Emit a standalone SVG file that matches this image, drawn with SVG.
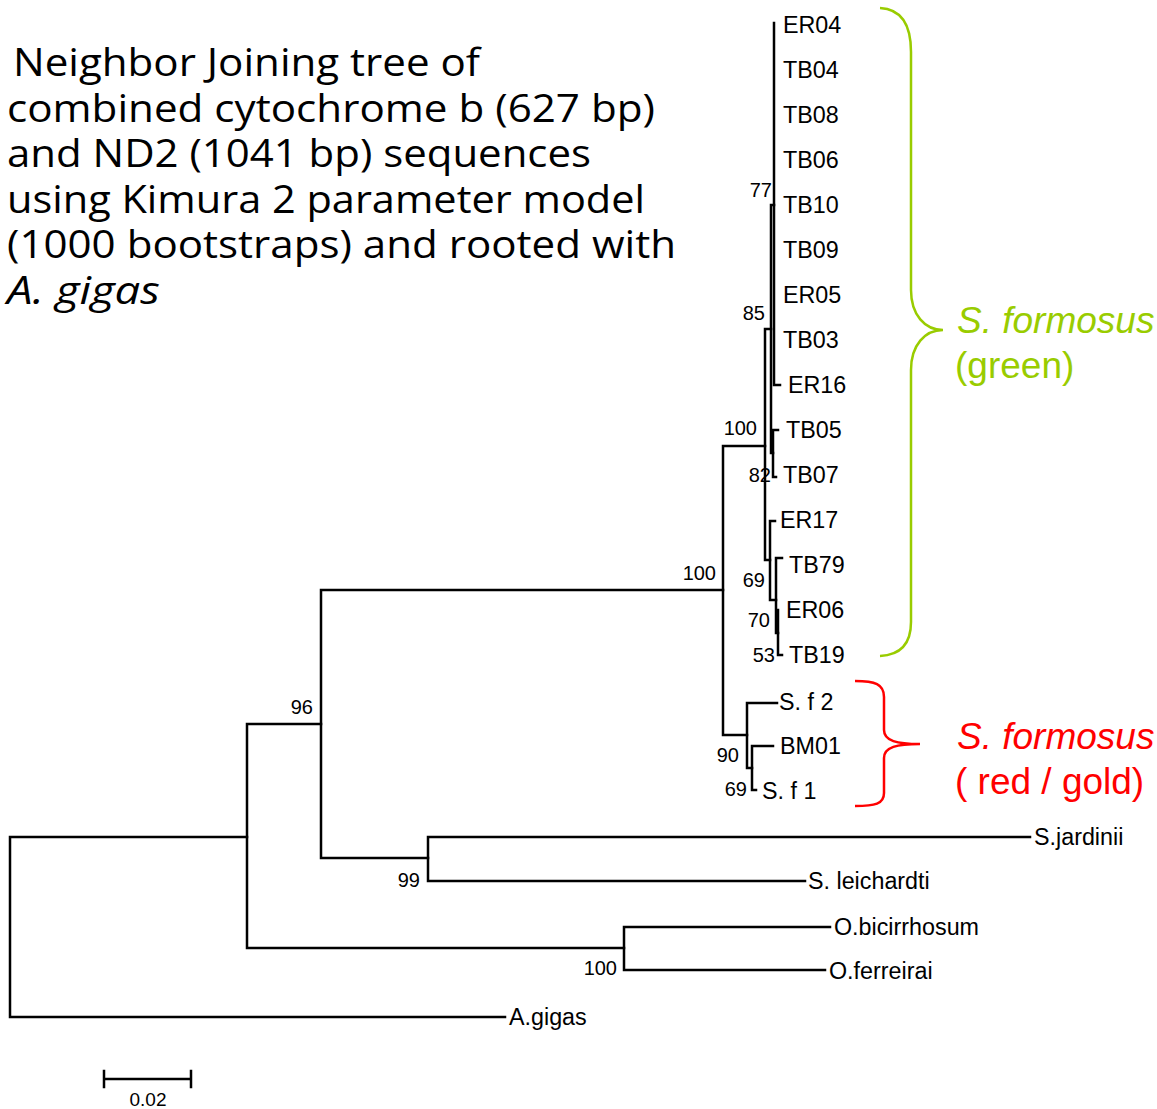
<svg xmlns="http://www.w3.org/2000/svg" width="1157" height="1109" viewBox="0 0 1157 1109">
<style>
.br{fill:none;stroke:#000;stroke-width:2.5;stroke-linecap:square}
.lf{font-family:"Liberation Sans",Arial,sans-serif;font-size:23.3px;fill:#000}
.bs{font-family:"Liberation Sans",Arial,sans-serif;font-size:20px;fill:#000;text-anchor:end}
.ti{font-family:"Open Sans","Noto Sans",sans-serif;font-size:38px;fill:#000}
.gr{font-family:"Liberation Sans",Arial,sans-serif;font-size:37px;fill:#99cc00}
.rd{font-family:"Liberation Sans",Arial,sans-serif;font-size:37px;fill:#ff0000}
</style>
<rect width="1157" height="1109" fill="#fff"/>
<g id="title">
<text class="ti" x="13" y="76" textLength="467" lengthAdjust="spacingAndGlyphs">Neighbor Joining tree of</text>
<text class="ti" x="7" y="121.5" textLength="648" lengthAdjust="spacingAndGlyphs">combined cytochrome b (627 bp)</text>
<text class="ti" x="7" y="167" textLength="584" lengthAdjust="spacingAndGlyphs">and ND2 (1041 bp) sequences</text>
<text class="ti" x="7" y="212.5" textLength="638" lengthAdjust="spacingAndGlyphs">using Kimura 2 parameter model</text>
<text class="ti" x="7" y="258" textLength="669" lengthAdjust="spacingAndGlyphs">(1000 bootstraps) and rooted with</text>
<text class="ti" x="7" y="303.5" font-style="italic" textLength="153" lengthAdjust="spacingAndGlyphs">A. gigas</text>
</g>
<g id="connectors">
<path class="br" d="M10,837 V1017 M10,837 H247 M10,1017 H505"/>
<path class="br" d="M247,724 V948 M247,724 H321 M247,948 H624"/>
<path class="br" d="M624,927 V970 M624,927 H830 M624,970 H825"/>
<path class="br" d="M321,590 V858 M321,590 H723 M321,858 H428"/>
<path class="br" d="M428,837 V881 M428,837 H1030 M428,881 H805"/>
<path class="br" d="M723,446 V735 M723,446 H765 M723,735 H747"/>
<path class="br" d="M747,703 V768 M747,703 H777 M747,768 H752"/>
<path class="br" d="M752,746 V790 M752,746 H773 M752,790 H756"/>
<path class="br" d="M765,329 V560 M765,329 H771 M765,560 H770"/>
<path class="br" d="M771,205 V453 M771,205 H774 M771,453 H773"/>
<path class="br" d="M774,23 V385 M774,385 H780"/>
<path class="br" d="M773,430 V477 M773,430 H778 M773,477 H776"/>
<path class="br" d="M770,521 V600 M770,521 H775 M770,600 H776"/>
<path class="br" d="M776,558 V633 M776,558 H782 M776,633 H778"/>
<path class="br" d="M778,610 V655 M778,655 H782"/>
<path class="br" d="M104,1079 H191 M104,1071 V1087 M191,1071 V1087"/>
</g>
<g id="leaves">
<text class="lf" x="783" y="33">ER04</text>
<text class="lf" x="783" y="78">TB04</text>
<text class="lf" x="783" y="123">TB08</text>
<text class="lf" x="783" y="168">TB06</text>
<text class="lf" x="783" y="213">TB10</text>
<text class="lf" x="783" y="258">TB09</text>
<text class="lf" x="783" y="303">ER05</text>
<text class="lf" x="783" y="348">TB03</text>
<text class="lf" x="788" y="393">ER16</text>
<text class="lf" x="786" y="438">TB05</text>
<text class="lf" x="783" y="483">TB07</text>
<text class="lf" x="780" y="528">ER17</text>
<text class="lf" x="789" y="573">TB79</text>
<text class="lf" x="786" y="618">ER06</text>
<text class="lf" x="789" y="663">TB19</text>
<text class="lf" x="779" y="710">S. f 2</text>
<text class="lf" x="780" y="754">BM01</text>
<text class="lf" x="762" y="799">S. f 1</text>
<text class="lf" x="1034" y="845">S.jardinii</text>
<text class="lf" x="808" y="889">S. leichardti</text>
<text class="lf" x="834" y="935">O.bicirrhosum</text>
<text class="lf" x="829" y="979">O.ferreirai</text>
<text class="lf" x="509" y="1025">A.gigas</text>
</g>
<g id="bootstrap">
<text class="bs" x="313" y="714">96</text>
<text class="bs" x="716" y="580">100</text>
<text class="bs" x="757" y="435">100</text>
<text class="bs" x="420" y="887">99</text>
<text class="bs" x="617" y="975">100</text>
<text class="bs" x="765" y="320">85</text>
<text class="bs" x="772" y="197">77</text>
<text class="bs" x="771" y="482">82</text>
<text class="bs" x="765" y="587">69</text>
<text class="bs" x="770" y="627">70</text>
<text class="bs" x="775" y="662">53</text>
<text class="bs" x="739" y="762">90</text>
<text class="bs" x="747" y="796">69</text>
</g>
<g id="scale">
<text x="148" y="1106" font-family="Liberation Sans, Arial, sans-serif" font-size="19" text-anchor="middle">0.02</text>
</g>
<g id="green-group">
<path d="M880,8 C900,9 911,22 911,52 V290 C911,315 925,330 943,330 C925,330 911,345 911,370 V622 C911,645 900,655 880,656" fill="none" stroke="#99cc00" stroke-width="2.5"/>
<text class="gr" x="957" y="333" font-style="italic">S. formosus</text>
<text class="gr" x="955" y="378">(green)</text>
</g>
<g id="red-group">
<path d="M855,681 C875,681 884,684 884,697 V730 C884,741 897,744 920,744 C897,744 884,747 884,758 V793 C884,804 875,806 855,806" fill="none" stroke="#ff0000" stroke-width="2.5"/>
<text class="rd" x="957" y="749" font-style="italic">S. formosus</text>
<text class="rd" x="955" y="794">( red / gold)</text>
</g>
</svg>
